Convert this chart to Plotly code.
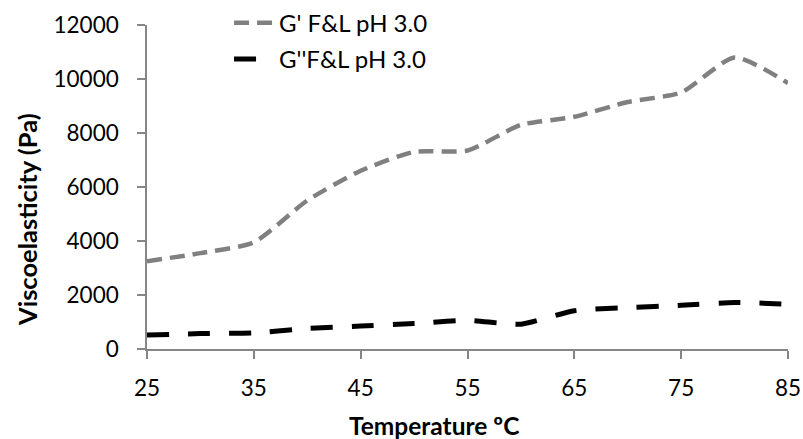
import plotly.graph_objects as go

# Temperature sweep (°C) and storage / loss moduli (Pa)
temperature = [25, 30, 35, 40, 45, 50, 55, 60, 65, 70, 75, 80, 85]
g_storage = [3250, 3550, 3950, 5500, 6600, 7300, 7350, 8300, 8600, 9150, 9500, 10800, 9850]
g_loss = [520, 570, 600, 760, 850, 940, 1060, 920, 1420, 1530, 1620, 1720, 1660]

x_ticks = [25, 35, 45, 55, 65, 75, 85]
y_ticks = [0, 2000, 4000, 6000, 8000, 10000, 12000]

x_title = "Temperature ºC"
y_title = "Viscoelasticity (Pa)"

FONT = "Lato, 'Open Sans', sans-serif"
AXIS_GREY = "#868686"
TICK_FS = 22.5
LEGEND_FS = 24

fig = go.Figure()
fig.add_trace(go.Scatter(
    x=temperature, y=g_storage, mode="lines", name="G' F&L pH 3.0", legendgroup="a",
    line=dict(color="#808080", width=4.5, dash="15px,8px", shape="spline", smoothing=0.6),
))
fig.add_trace(go.Scatter(
    x=temperature, y=g_loss, mode="lines", name="G''F&L pH 3.0", legendgroup="b",
    line=dict(color="#000000", width=5, dash="22px,19px", shape="spline", smoothing=0.6),
))

fig.update_layout(
    width=803, height=439,
    margin=dict(l=147, r=15, t=25, b=90, autoexpand=False),
    paper_bgcolor="white", plot_bgcolor="white",
    font=dict(family=FONT, size=TICK_FS, color="#000000"),
    showlegend=True,
    legend=dict(
        x=0.128, y=1.075, xanchor="left", yanchor="top",
        bgcolor="rgba(0,0,0,0)", font=dict(size=LEGEND_FS),
        tracegroupgap=2, itemwidth=40,
    ),
    xaxis=dict(
        range=[25, 85], tickvals=x_ticks, ticktext=[str(v) for v in x_ticks],
        showgrid=False, zeroline=False, automargin=False,
        showline=True, linecolor=AXIS_GREY, linewidth=1.5,
        ticks="outside", ticklen=8, tickcolor=AXIS_GREY, tickwidth=1.5,
        tickfont=dict(size=TICK_FS), ticklabelstandoff=10,
    ),
    yaxis=dict(
        range=[0, 12000], tickvals=y_ticks, ticktext=[str(v) for v in y_ticks],
        showgrid=False, zeroline=False, automargin=False,
        showline=True, linecolor=AXIS_GREY, linewidth=1.5,
        ticks="outside", ticklen=8, tickcolor=AXIS_GREY, tickwidth=1.5,
        tickfont=dict(size=TICK_FS), ticklabelstandoff=14,
    ),
    annotations=[
        dict(text=f"<b>{x_title}</b>", xref="paper", yref="paper",
             x=0.4477, y=-0.2346, xanchor="center", yanchor="middle",
             showarrow=False, font=dict(size=24.5)),
        dict(text=f"<b>{y_title}</b>", xref="paper", yref="paper",
             x=-0.1872, y=0.398, xanchor="center", yanchor="middle",
             textangle=-90, showarrow=False, font=dict(size=25.5)),
    ],
)

fig.write_html("out.html")
